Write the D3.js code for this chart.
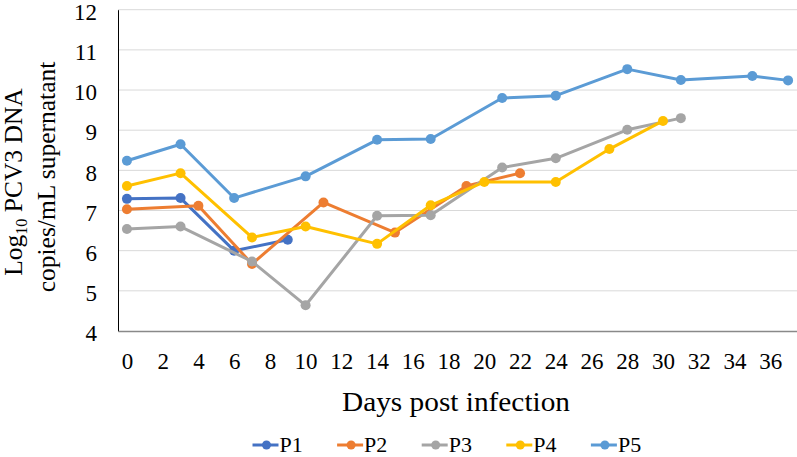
<!DOCTYPE html>
<html><head><meta charset="utf-8">
<script src="https://cdn.jsdelivr.net/npm/d3@7"></script>
<style>body{margin:0;background:#fff} svg text{font-family:"Liberation Serif","Times New Roman","DejaVu Serif",serif;}</style>
</head><body><svg id="c" width="797" height="457"></svg>
<script>
const seriesNames = ["P1","P2","P3","P4","P5"];
const colors = ["#4472C4","#ED7D31","#A5A5A5","#FFC000","#5B9BD5"];
const p1Days = [0,3,6,9];
const p1Vals = [7.29,7.31,6.00,6.27];
const p2Days = [0,4,7,11,15,19,22];
const p2Vals = [7.03,7.12,5.67,7.20,6.45,7.61,7.93];
const p3Days = [0,3,7,10,14,17,21,24,28,31];
const p3Vals = [6.54,6.60,5.73,4.64,6.87,6.88,8.07,8.30,9.01,9.30];
const p4Days = [0,3,7,10,14,17,20,24,27,30];
const p4Vals = [7.61,7.93,6.33,6.60,6.17,7.13,7.71,7.71,8.53,9.23];
const p5Days = [0,3,6,10,14,17,21,24,28,31,35,37];
const p5Vals = [8.24,8.65,7.31,7.85,8.76,8.78,9.80,9.86,10.52,10.25,10.35,10.24];
const xTicks = d3.range(0,37,2);
const yTicks = [4,5,6,7,8,9,10,11,12];

const allDays = [p1Days,p2Days,p3Days,p4Days,p5Days];
const allVals = [p1Vals,p2Vals,p3Vals,p4Vals,p5Vals];

const svg = d3.select("#c");
const mLeft = 118, mRight = 797, mTop = 9.7, mBottom = 331;
const x = d3.scaleLinear().domain([-0.5,37.5]).range([mLeft,mRight]);
const y = d3.scaleLinear().domain([4,12]).range([mBottom,mTop]);

// gridlines
svg.append("g").selectAll("line").data(yTicks.filter(d=>d>4)).join("line")
  .attr("x1",mLeft).attr("x2",mRight).attr("y1",d=>y(d)).attr("y2",d=>y(d))
  .attr("stroke","#D9D9D9").attr("stroke-width",1);

// y axis labels
const ya = svg.append("g").attr("transform",`translate(${mLeft},0)`)
  .call(d3.axisLeft(y).tickValues(yTicks).tickSize(0).tickPadding(21));
ya.attr("font-family",null);
ya.select(".domain").attr("stroke","#000").attr("stroke-width",1);
ya.selectAll("text").attr("font-size",23).attr("fill","#000").attr("dy","0.42em");

// x axis
const xa = svg.append("g").attr("transform",`translate(0,${mBottom})`)
  .call(d3.axisBottom(x).tickValues(xTicks).tickSize(0).tickPadding(22));
xa.attr("font-family",null);
xa.select(".domain").attr("stroke","#898989").attr("stroke-width",1.3);
xa.selectAll("text").attr("font-size",23).attr("fill","#000");

// lines
const line = d3.line().x(d=>x(d[0])).y(d=>y(d[1]));
seriesNames.forEach((n,i)=>{
  const pts = allDays[i].map((d,j)=>[d,allVals[i][j]]);
  const g = svg.append("g");
  g.append("path").datum(pts).attr("d",line).attr("fill","none")
    .attr("stroke",colors[i]).attr("stroke-width",3).attr("stroke-linejoin","round");
  g.selectAll("circle").data(pts).join("circle")
    .attr("cx",d=>x(d[0])).attr("cy",d=>y(d[1])).attr("r",5).attr("fill",colors[i]);
});

// axis titles
svg.append("text").attr("x",456).attr("y",411).attr("text-anchor","middle")
  .attr("font-size",27).attr("textLength",228).attr("lengthAdjust","spacingAndGlyphs")
  .text("Days post infection");

// y title line 1 (centered manually at y=182)
const t1 = svg.append("text").attr("font-size",25.5).attr("text-anchor","start");
t1.append("tspan").text("Log");
t1.append("tspan").attr("font-size",16).attr("dy",5).text("10");
t1.append("tspan").attr("dy",-5).text(" PCV3 DNA");
const len1 = t1.node().getComputedTextLength();
t1.attr("transform",`translate(22,${182 + len1/2}) rotate(-90)`);
// y title line 2
svg.append("text").attr("font-size",25.5).attr("text-anchor","middle")
  .attr("transform","translate(55,177) rotate(-90)").text("copies/mL supernatant");

// legend
const lg = svg.append("g");
seriesNames.forEach((n,i)=>{
  const cx = 266.5 + i*84.6;
  lg.append("line").attr("x1",cx-14).attr("x2",cx+12).attr("y1",445).attr("y2",445)
    .attr("stroke",colors[i]).attr("stroke-width",3);
  lg.append("circle").attr("cx",cx).attr("cy",445).attr("r",4.5).attr("fill",colors[i]);
  lg.append("text").attr("x",cx+13).attr("y",452).attr("font-size",22).text(n);
});
</script></body></html>
